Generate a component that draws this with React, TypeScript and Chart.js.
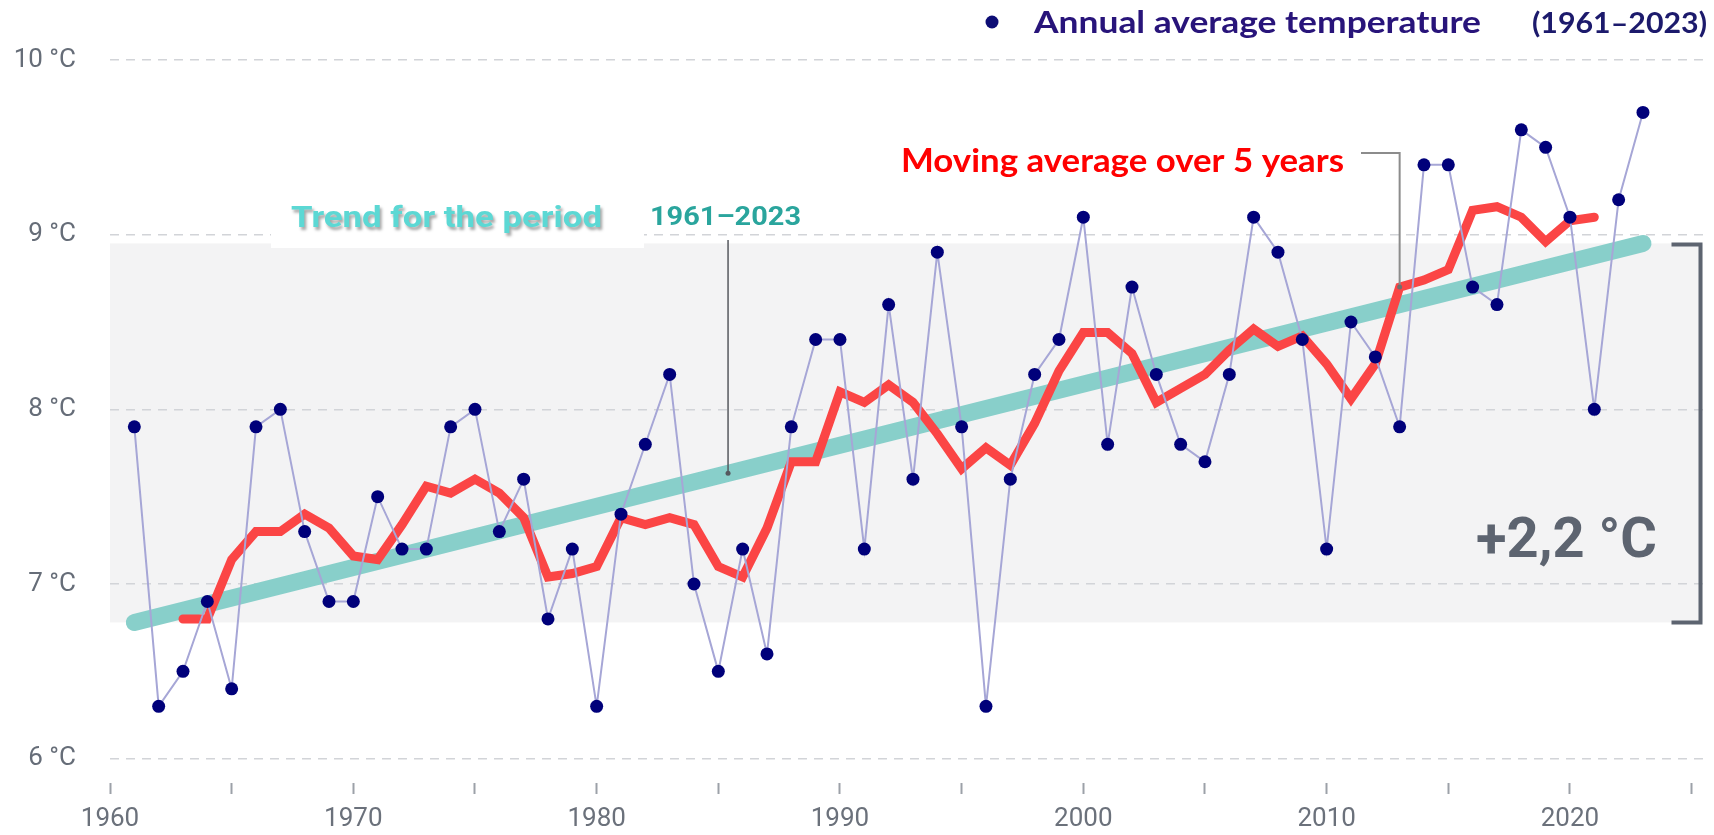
import React, { useEffect, useRef } from 'react';
import { Chart, registerables } from 'chart.js';

Chart.register(...registerables);

// ---- Data ----
const START_YEAR = 1961;
const ANNUAL_TEMPS = [
  7.9, 6.3, 6.5, 6.9, 6.4, 7.9, 8.0, 7.3, 6.9, 6.9,
  7.5, 7.2, 7.2, 7.9, 8.0, 7.3, 7.6, 6.8, 7.2, 6.3,
  7.4, 7.8, 8.2, 7.0, 6.5, 7.2, 6.6, 7.9, 8.4, 8.4,
  7.2, 8.6, 7.6, 8.9, 7.9, 6.3, 7.6, 8.2, 8.4, 9.1,
  7.8, 8.7, 8.2, 7.8, 7.7, 8.2, 9.1, 8.9, 8.4, 7.2,
  8.5, 8.3, 7.9, 9.4, 9.4, 8.7, 8.6, 9.6, 9.5, 9.1,
  8.0, 9.2, 9.7,
];
const MA_START_YEAR = 1963;
const MOVING_AVG = [
  6.80, 6.80, 7.14, 7.30, 7.30, 7.40, 7.32, 7.16, 7.14, 7.34,
  7.56, 7.52, 7.60, 7.52, 7.38, 7.04, 7.06, 7.10, 7.38, 7.34,
  7.38, 7.34, 7.10, 7.04, 7.32, 7.70, 7.70, 8.10, 8.04, 8.14,
  8.04, 7.86, 7.66, 7.78, 7.68, 7.92, 8.22, 8.44, 8.44, 8.32,
  8.04, 8.12, 8.20, 8.34, 8.46, 8.36, 8.42, 8.26, 8.06, 8.26,
  8.70, 8.74, 8.80, 9.14, 9.16, 9.10, 8.96, 9.08, 9.10,
];
const TREND_YEARS = [1961, 2023];
const TREND_VALUES = [6.78, 8.95];
const X_TICKS = [1960, 1965, 1970, 1975, 1980, 1985, 1990, 1995, 2000, 2005, 2010, 2015, 2020, 2025];
const X_LABELED = [1960, 1970, 1980, 1990, 2000, 2010, 2020];
const Y_TICKS = [6, 7, 8, 9, 10];
const TREND_POINTER_YEAR = 1985.4;
const MA_POINTER_YEAR = 2013;

const TEXT_LEGEND = 'Annual average temperature';
const TEXT_PERIOD = '(1961–2023)';
const TEXT_TREND = 'Trend for the period';
const TEXT_TREND_PERIOD = '1961–2023';
const TEXT_MA = 'Moving average over 5 years';
const TEXT_DELTA = '+2,2 °C';

// layout targets (pixel rows of the lowest/highest y gridlines)
const GRID_TOP_PX = 60;
const GRID_BOTTOM_PX = 758.7;

function fitText(
  ctx: CanvasRenderingContext2D, text: string, font: string, color: string,
  x: number, baseline: number, width: number, shadow = false,
) {
  ctx.save();
  ctx.font = font;
  const w = ctx.measureText(text).width;
  ctx.translate(x, baseline);
  ctx.scale(width / w, 1);
  ctx.fillStyle = color;
  ctx.textAlign = 'left';
  ctx.textBaseline = 'alphabetic';
  if (shadow) {
    ctx.shadowColor = 'rgba(0,0,0,0.35)';
    ctx.shadowOffsetX = 2;
    ctx.shadowOffsetY = 3;
    ctx.shadowBlur = 3;
  }
  ctx.fillText(text, 0, 0);
  ctx.restore();
}

const annotationPlugin = {
  id: 'annotations',
  beforeDraw(chart: any) {
    const { ctx, chartArea, scales } = chart;
    const ys = scales.y;
    const top = ys.getPixelForValue(TREND_VALUES[1]);
    const bot = ys.getPixelForValue(TREND_VALUES[0]);
    ctx.save();
    ctx.fillStyle = '#f3f3f4';
    ctx.fillRect(chartArea.left, top, chartArea.right - 3 - chartArea.left, bot - top);
    ctx.restore();
  },
  beforeDatasetsDraw(chart: any) {
    const { ctx } = chart;
    ctx.save();
    ctx.fillStyle = '#ffffff';
    ctx.fillRect(271, 188, 373, 60);
    ctx.restore();
  },
  afterDatasetsDraw(chart: any) {
    const { ctx, chartArea, scales } = chart;
    const xs = scales.x;
    const ys = scales.y;

    // Trend label
    fitText(ctx, TEXT_TREND, 'bold 30px Roboto', '#5cd8d4', 291, 227, 311, true);
    fitText(ctx, TEXT_TREND_PERIOD, 'bold 26px Roboto', '#2aa59d', 650, 225, 151);

    // Trend pointer
    const tFrac = (TREND_POINTER_YEAR - TREND_YEARS[0]) / (TREND_YEARS[1] - TREND_YEARS[0]);
    const tVal = TREND_VALUES[0] + tFrac * (TREND_VALUES[1] - TREND_VALUES[0]);
    const tx = xs.getPixelForValue(TREND_POINTER_YEAR);
    const ty = ys.getPixelForValue(tVal);
    ctx.save();
    ctx.strokeStyle = '#55585e';
    ctx.lineWidth = 1.5;
    ctx.beginPath();
    ctx.moveTo(tx, 240);
    ctx.lineTo(tx, ty);
    ctx.stroke();
    ctx.fillStyle = '#55585e';
    ctx.beginPath();
    ctx.arc(tx, ty, 2.5, 0, Math.PI * 2);
    ctx.fill();
    ctx.restore();

    // Moving average label + pointer
    fitText(ctx, TEXT_MA, 'bold 32px Lato', '#ff0000', 901, 172, 443);
    const maIdx = MA_POINTER_YEAR - MA_START_YEAR;
    const mx = xs.getPixelForValue(MA_POINTER_YEAR);
    const my = ys.getPixelForValue(MOVING_AVG[maIdx]);
    ctx.save();
    ctx.strokeStyle = '#8c8c8c';
    ctx.lineWidth = 2;
    ctx.beginPath();
    ctx.moveTo(1361, 153);
    ctx.lineTo(mx, 153);
    ctx.lineTo(mx, my);
    ctx.stroke();
    ctx.fillStyle = '#6f6f6f';
    ctx.beginPath();
    ctx.arc(mx, my, 2.5, 0, Math.PI * 2);
    ctx.fill();
    ctx.restore();

    // Legend
    ctx.save();
    ctx.fillStyle = '#0d0d75';
    ctx.beginPath();
    ctx.arc(992, 22, 6.5, 0, Math.PI * 2);
    ctx.fill();
    ctx.restore();
    fitText(ctx, TEXT_LEGEND, 'bold 30px Lato', '#28147a', 1034, 33, 447);
    fitText(ctx, TEXT_PERIOD, 'bold 28px Lato', '#1c1a6c', 1532, 33, 175);

    // Delta + bracket
    fitText(ctx, TEXT_DELTA, 'bold 56px Roboto', '#5d6470', 1476, 557, 181);
    const bTop = ys.getPixelForValue(TREND_VALUES[1]) + 1;
    const bBot = ys.getPixelForValue(TREND_VALUES[0]);
    const bx = chartArea.right - 5;
    ctx.save();
    ctx.strokeStyle = '#5d6470';
    ctx.lineWidth = 4;
    ctx.lineJoin = 'miter';
    ctx.beginPath();
    ctx.moveTo(bx - 29, bTop);
    ctx.lineTo(bx, bTop);
    ctx.lineTo(bx, bBot);
    ctx.lineTo(bx - 29, bBot);
    ctx.stroke();
    ctx.restore();
  },
};

export default function App() {
  const ref = useRef<HTMLCanvasElement>(null);

  useEffect(() => {
    const annualData = ANNUAL_TEMPS.map((v, i) => ({ x: START_YEAR + i, y: v }));
    const maData = MOVING_AVG.map((v, i) => ({ x: MA_START_YEAR + i, y: v }));
    const trendData = TREND_YEARS.map((yr, i) => ({ x: yr, y: TREND_VALUES[i] }));

    const chart: any = new Chart(ref.current as HTMLCanvasElement, {
      type: 'line',
      data: {
        datasets: [
          {
            label: 'Annual average temperature',
            data: annualData,
            borderColor: '#a6a6d6',
            borderWidth: 2,
            pointRadius: 6.5,
            pointBorderWidth: 0,
            pointBackgroundColor: '#00007a',
            pointBorderColor: '#00007a',
            tension: 0,
            order: 1,
          },
          {
            label: 'Moving average over 5 years',
            data: maData,
            borderColor: '#fb4545',
            borderWidth: 9,
            borderCapStyle: 'round',
            borderJoinStyle: 'miter',
            pointRadius: 0,
            tension: 0,
            order: 2,
          },
          {
            label: 'Trend',
            data: trendData,
            borderColor: '#88cfca',
            borderWidth: 17,
            borderCapStyle: 'round',
            pointRadius: 0,
            order: 3,
          },
        ],
      },
      options: {
        responsive: false,
        animation: false,
        events: [],
        layout: { padding: { top: 25, right: 6, bottom: 0, left: 0 } },
        plugins: {
          legend: { display: false },
          tooltip: { enabled: false },
        },
        scales: {
          x: {
            type: 'linear',
            position: 'bottom',
            min: 1960,
            max: 2025.57,
            afterBuildTicks: (scale: any) => {
              scale.ticks = X_TICKS.map((v) => ({ value: v }));
            },
            afterFit: (scale: any) => {
              scale.height = 52;
            },
            ticks: {
              autoSkip: false,
              maxRotation: 0,
              padding: 10,
              color: '#6b717b',
              font: { family: 'Roboto', size: 26 },
              callback: (v: any) => (X_LABELED.includes(Number(v)) ? String(v) : ''),
            },
            grid: {
              drawOnChartArea: false,
              drawTicks: true,
              tickLength: 11,
              tickColor: '#9ca1a8',
              tickWidth: 2,
              color: '#9ca1a8',
            },
            border: { display: false },
          },
          y: {
            type: 'linear',
            min: 5.86,
            max: 10.2,
            afterBuildTicks: (scale: any) => {
              scale.ticks = Y_TICKS.map((v) => ({ value: v }));
            },
            afterFit: (scale: any) => {
              scale.width = 110;
            },
            ticks: {
              padding: 34,
              color: '#666d78',
              font: { family: 'Roboto', size: 26 },
              callback: (v: any) => `${v} °C`,
            },
            grid: {
              drawTicks: false,
              color: '#d2d4d8',
              lineWidth: 1.5,
            },
            border: { display: false, dash: [9, 7] },
          },
        },
      },
      plugins: [annotationPlugin],
    });

    // Fit the y range so the 6 °C and 10 °C gridlines sit where the reference has them
    const { top, bottom } = chart.chartArea;
    const lo = Y_TICKS[0];
    const hi = Y_TICKS[Y_TICKS.length - 1];
    const k = (GRID_BOTTOM_PX - GRID_TOP_PX) / (hi - lo);
    chart.options.scales.y.max = hi + (GRID_TOP_PX - top) / k;
    chart.options.scales.y.min = lo - (bottom - GRID_BOTTOM_PX) / k;
    chart.update();

    return () => chart.destroy();
  }, []);

  return (
    <div style={{ position: 'absolute', left: 0, top: 0, width: 1714, height: 835, background: '#ffffff' }}>
      <canvas ref={ref} width={1714} height={835} style={{ display: 'block', width: 1714, height: 835 }} />
    </div>
  );
}
